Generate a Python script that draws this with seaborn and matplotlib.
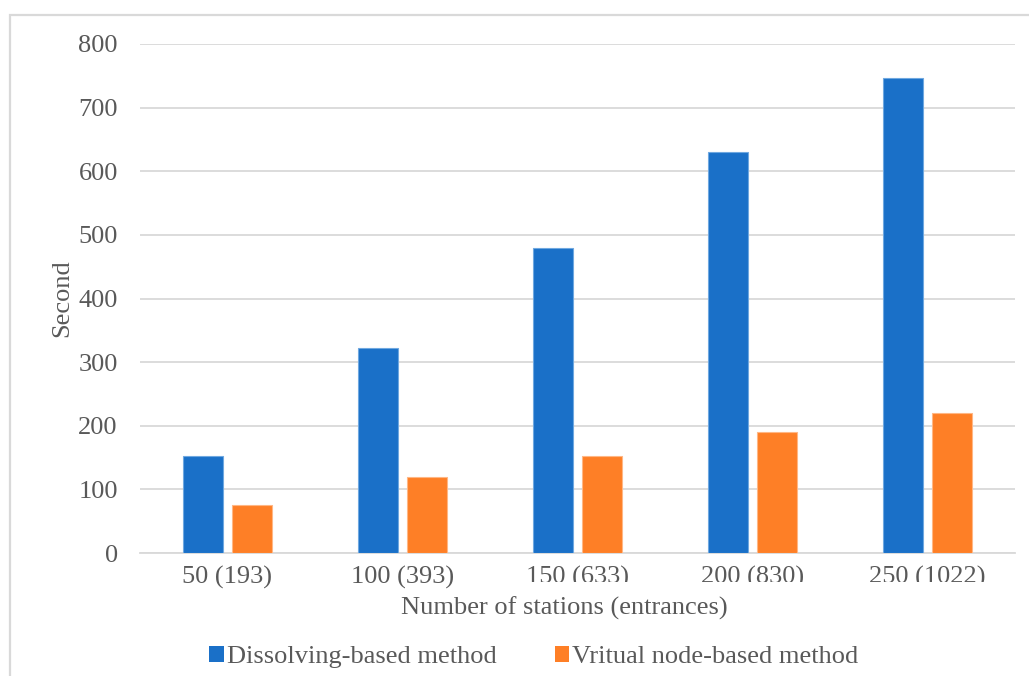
import numpy as np
import pandas as pd
import matplotlib
matplotlib.use("Agg")
import matplotlib.pyplot as plt
from matplotlib.patches import Rectangle
from matplotlib.transforms import Bbox, TransformedBbox
import seaborn as sns

# Runtime (seconds) for each network size
categories = ["50 (193)", "100 (393)", "150 (633)", "200 (830)", "250 (1022)"]
dissolving = [152, 322, 480, 631, 747]
virtual_node = [75, 119, 152, 190, 220]
series_names = ["Dissolving-based method", "Vritual node-based method"]
y_ticks = [0, 100, 200, 300, 400, 500, 600, 700, 800]

df = pd.DataFrame({
    "stations": categories * 2,
    "seconds": dissolving + virtual_node,
    "method": [series_names[0]] * len(categories) + [series_names[1]] * len(categories),
})

sns.set_theme(style="white")
plt.rcParams["font.family"] = ["Liberation Serif", "DejaVu Serif"]
text_color = "#595959"
grid_color = "#d9d9d9"

W, H = 1029, 676
fig = plt.figure(figsize=(W / 100, H / 100), dpi=100)
ax = fig.add_axes([140 / W, 1 - 553 / H, (1015 - 140) / W, (553 - 44) / H])

palette = {series_names[0]: "#1a70c8", series_names[1]: "#fe7f26"}
sns.barplot(data=df, x="stations", y="seconds", hue="method", order=categories,
            hue_order=series_names, palette=palette, width=0.5714, gap=0.2,
            saturation=1, ax=ax, legend=True, zorder=3)

# Thin lighter outline on the bars
for container, edge in zip(ax.containers, ["#6fa8e0", "#ffb785"]):
    for bar in container:
        bar.set_edgecolor(edge)
        bar.set_linewidth(0.8)

ax.set_ylim(0, 800)
ax.set_yticks(y_ticks)
ax.yaxis.grid(True, color=grid_color, linewidth=1.3, zorder=0)
ax.set_axisbelow(True)
for side in ["left", "right", "top"]:
    ax.spines[side].set_visible(False)
ax.spines["bottom"].set_color(grid_color)
ax.spines["bottom"].set_linewidth(1.3)

ax.tick_params(axis="y", length=0, pad=16, labelsize=19, labelcolor=text_color)
ax.tick_params(axis="x", length=0, pad=9, labelsize=19, labelcolor=text_color)

ax.set_xlabel("Number of stations (entrances)", fontsize=19, color=text_color)
ax.set_ylabel("Second", fontsize=19, color=text_color)
ax.xaxis.set_label_coords((564 - 140) / (1015 - 140), -(608 - 553) / (553 - 44))
ax.xaxis.label.set_va("center")
ax.yaxis.set_label_coords(-(140 - 62) / (1015 - 140), 0.5)
ax.yaxis.label.set_va("center")

leg = ax.get_legend()
leg.remove()
handles = [Rectangle((0, 0), 1, 1, facecolor=palette[n], edgecolor="none") for n in series_names]
fig.legend(handles, series_names, loc="center", bbox_to_anchor=(534 / W, 1 - 657 / H),
           ncol=2, frameon=False, fontsize=19, labelcolor=text_color,
           handlelength=0.55, handleheight=0.55, handletextpad=0.12, columnspacing=2.2)

# Chart frame (left and top edges)
fig.add_artist(Rectangle((10 / W, -0.05), 1.2, (H - 15) / H + 0.05,
                         transform=fig.transFigure, fill=False,
                         edgecolor=grid_color, linewidth=1.6))

fig.canvas.draw()
# The last three category labels are cut off along their lower edge
clip = TransformedBbox(Bbox([[0, 1 - 582 / H], [1, 1]]), fig.transFigure)
for lbl in ax.get_xticklabels()[2:]:
    lbl.set_clip_box(clip)
    lbl.set_clip_on(True)

fig.savefig("out.png", dpi=100, facecolor="white")
